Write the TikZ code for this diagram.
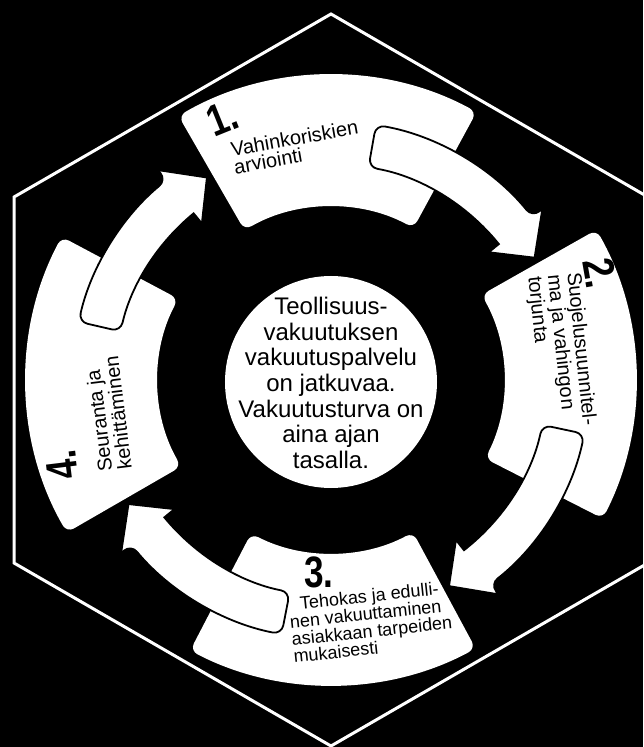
\documentclass[tikz,border=0pt]{standalone}
\usepackage{fontspec}
\setmainfont{Liberation Sans}
\usepackage{graphicx}
\tikzset{>=latex}

\tikzset{
    hexline/.style={draw=white, line width=3pt, line join=miter},
    block/.style={fill=white, rounded corners=8pt},
    band/.style={fill=white, draw=black, line width=1.8pt},
    numtext/.style={inner sep=0pt, font=\fontsize{44}{44}\selectfont\bfseries},
    blocktext/.style={inner sep=0pt, align=left, font=\fontsize{20}{18}\selectfont}
}
\newcommand{\condensed}[1]{\scalebox{0.8}[1]{#1}}

\begin{document}
\begin{tikzpicture}[x=1pt, y=1pt]
    % Background
    \useasboundingbox (-331,-367) rectangle (312,380);
    \fill[black] (-331,-367) rectangle (312,380);

    % Hexagon
    \draw[hexline] (90:366) -- (150:366) -- (210:366) -- (270:366) -- (330:366) -- (30:366) -- cycle;

    % Blocks
    \foreach \a/\b in {61.5/120, -27/29.5, 242.5/298.3, 152/210}
        \fill[block] (\a:305) arc[start angle=\a, end angle=\b, radius=305]
            -- (\b:173) arc[start angle=\b, end angle=\a, radius=173] -- cycle;

    % Centre
    \node[circle, fill=white, minimum size=212pt, inner sep=0pt] (core) at (0,-2) {};
    \node[align=center, inner sep=0pt, font=\fontsize{24}{25.7}\selectfont] (coretext) at (0,-3)
        {Teollisuus-\\vakuutuksen\\vakuutuspalvelu\\on jatkuvaa.\\Vakuutusturva on\\aina ajan\\tasalla.};

    % Texts
    \node[numtext, rotate=22] (num1) at (-109,262) {\condensed{1.}};
    \node[blocktext, rotate=10] (txt1) at (-35,233) {Vahinkoriskien\\arviointi};
    \node[numtext, rotate=-80] (num2) at (269,107) {\condensed{2.}};
    \node[blocktext, rotate=-84] (txt2) at (230,29) {Suojelusuunnitel-\\ma ja vahingon\\torjunta};
    \node[numtext] (num3) at (-12,-192) {\condensed{3.}};
    \node[blocktext, font=\fontsize{18}{17.5}\selectfont, rotate=6] (txt3) at (40,-242)
        {\hspace*{12pt}Tehokas ja edulli-\\nen vakuuttaminen\\asiakkaan tarpeiden\\mukaisesti};
    \node[numtext, rotate=97] (num4) at (-269,-85) {\condensed{4.}};
    \node[blocktext, rotate=97] (txt4) at (-223,-34) {Seuranta ja\\kehittäminen};

    % Arrows
    \foreach \t/\b/\p in {80/39/31, -12/-52/-60.2, 259/219.5/211.5, 167/129.5/121.5}
        \draw[band] (\t:237.5) [rounded corners=9pt] -- (\t:259)
            arc[start angle=\t, end angle=\b, radius=259] [sharp corners]
            -- (\b:272) -- (\p:237.5) -- (\b:203) -- (\b:216) [rounded corners=9pt]
            arc[start angle=\b, end angle=\t, radius=216] -- cycle;
\end{tikzpicture}
\end{document}
